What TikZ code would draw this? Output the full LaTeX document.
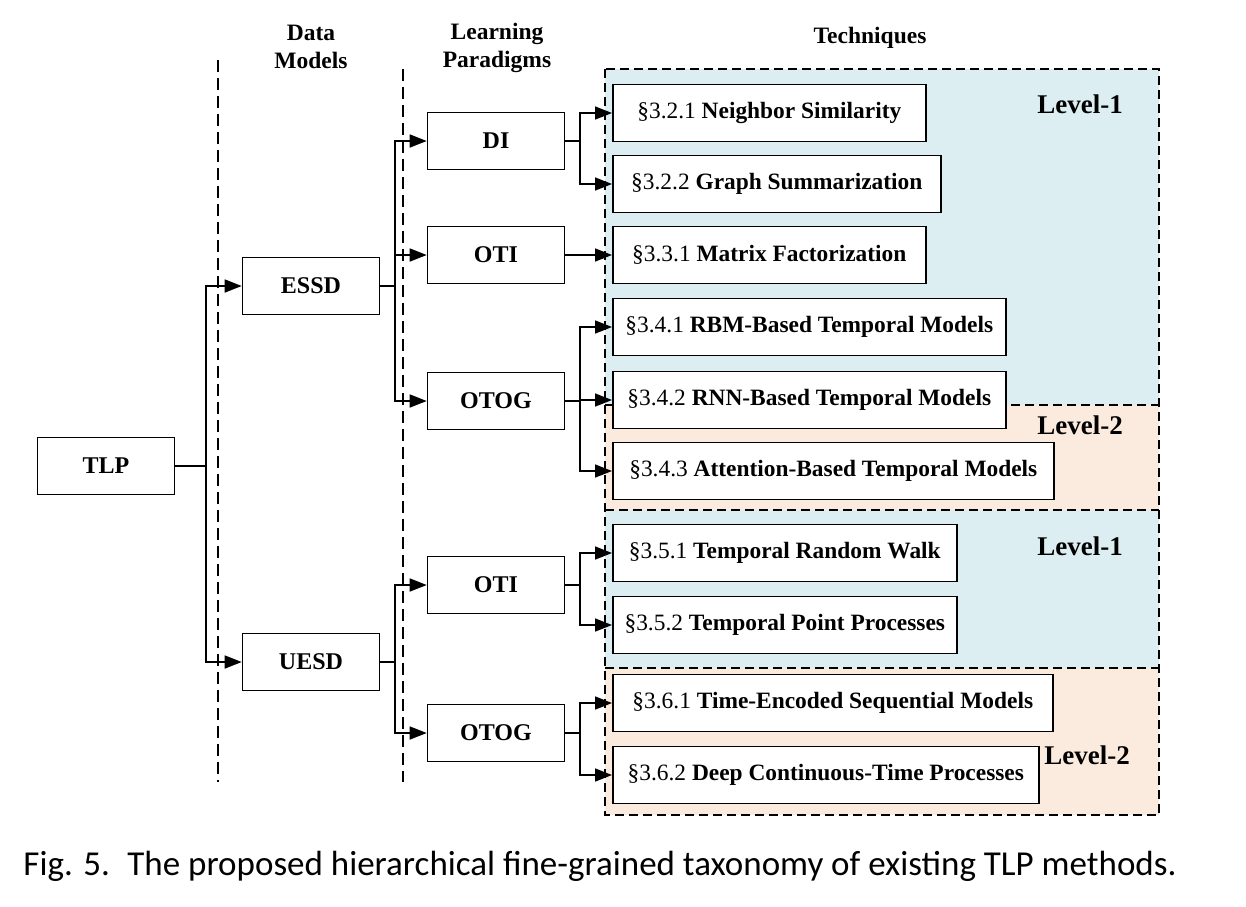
\documentclass[tikz,border=0pt]{standalone}
\usepackage{fontspec}
\setmainfont{Liberation Serif}
\newfontfamily\capfont{Carlito}
\usetikzlibrary{arrows.meta,calc}
\definecolor{lvlblue}{RGB}{221,238,243}
\definecolor{lvlbeige}{RGB}{250,235,222}
\tikzset{box/.style={draw, line width=1.6pt, fill=white, minimum width=137pt, minimum height=57pt, font=\fontsize{24}{28}\selectfont\bfseries}}
\tikzset{tech/.style={draw, line width=1.6pt, fill=white, anchor=west, minimum width=#1, minimum height=57pt, font=\fontsize{23.4}{27}\selectfont\bfseries}}
\tikzset{edge/.style={line width=1.6pt}}
\tikzset{arr/.style={edge, -{Triangle[length=17pt,width=13pt]}}}
\tikzset{sep/.style={line width=1.3pt, dash pattern=on 12pt off 6pt}}
\tikzset{lvlline/.style={line width=1.3pt, dash pattern=on 9pt off 5pt}}
\tikzset{lvl/.style={font=\fontsize{27}{31}\selectfont\bfseries}}
\tikzset{head/.style={align=center, font=\fontsize{23.5}{27.5}\selectfont\bfseries}}
\newcommand{\sect}[1]{{\mdseries\S#1}}

\begin{document}
\begin{tikzpicture}[x=1pt,y=-1pt]
\useasboundingbox (0,0) rectangle (1246,906);

% level regions behind the techniques
\fill[lvlblue] (605,69) rectangle (1159,405);
\fill[lvlbeige] (605,405) rectangle (1159,510);
\fill[lvlblue] (605,510) rectangle (1159,668);
\fill[lvlbeige] (605,668) rectangle (1159,815);
\draw[lvlline] (605,69) rectangle (1159,815);
\draw[lvlline] (605,405) -- (1159,405);
\draw[lvlline] (605,510) -- (1159,510);
\draw[lvlline] (605,668) -- (1159,668);

\node (l1a) at (1080,104)[lvl]{Level-1};
\node (l2a) at (1080,425)[lvl]{Level-2};
\node (l1b) at (1080,546)[lvl]{Level-1};
\node (l2b) at (1087,755)[lvl]{Level-2};

% column separators and headings
\draw[sep] (218,60) -- (218,782);
\draw[sep] (403,69) -- (403,782);
\node (hdata) at (311,47)[head]{Data\\Models};
\node (hlearn) at (497,48)[head]{Learning\\Paradigms};
\node (htech) at (870,38)[head]{Techniques};

% tree nodes
\node (tlp) at (106,466)[box]{TLP};
\node (essd) at (311,286)[box]{ESSD};
\node (uesd) at (311,662)[box]{UESD};
\node (di) at (496,141)[box]{DI};
\node (oti) at (496,255)[box]{OTI};
\node (otog) at (496,401)[box]{OTOG};
\node (oti2) at (496,585)[box]{OTI};
\node (otog2) at (496,733)[box]{OTOG};

\node (t321) at (612,113)[tech=313pt]{\sect{3.2.1} Neighbor Similarity};
\node (t322) at (612,184)[tech=328pt]{\sect{3.2.2} Graph Summarization};
\node (t331) at (612,255)[tech=313pt]{\sect{3.3.1} Matrix Factorization};
\node (t341) at (612,327)[tech=393pt]{\sect{3.4.1} RBM-Based Temporal Models};
\node (t342) at (612,400)[tech=393pt]{\sect{3.4.2} RNN-Based Temporal Models};
\node (t343) at (612,471)[tech=441pt]{\sect{3.4.3} Attention-Based Temporal Models};
\node (t351) at (612,553)[tech=344pt]{\sect{3.5.1} Temporal Random Walk};
\node (t352) at (612,625)[tech=344pt]{\sect{3.5.2} Temporal Point Processes};
\node (t361) at (612,703)[tech=440pt]{\sect{3.6.1} Time-Encoded Sequential Models};
\node (t362) at (612,775)[tech=426pt]{\sect{3.6.2} Deep Continuous-Time Processes};

% junctions
\coordinate (j0) at (206,466);
\coordinate (j1) at (395,286);
\coordinate (j2) at (395,662);
\coordinate (j3) at (580,141);
\coordinate (j4) at (580,401);
\coordinate (j5) at (580,585);
\coordinate (j6) at (580,733);

\draw[edge] (tlp) -- (j0);
\draw[arr] (j0) |- (essd);
\draw[arr] (j0) |- (uesd);

\draw[edge] (essd) -- (j1);
\draw[arr] (j1) |- (di);
\draw[arr] (j1) |- (oti);
\draw[arr] (j1) |- (otog);

\draw[edge] (uesd) -- (j2);
\draw[arr] (j2) |- (oti2);
\draw[arr] (j2) |- (otog2);

\draw[edge] (di) -- (j3);
\draw[arr] (j3) |- (t321);
\draw[arr] (j3) |- (t322);
\draw[arr] (oti) -- (t331);
\draw[edge] (otog) -- (j4);
\draw[arr] (j4) |- (t341);
\draw[arr] (j4) |- (t342);
\draw[arr] (j4) |- (t343);
\draw[edge] (oti2) -- (j5);
\draw[arr] (j5) |- (t351);
\draw[arr] (j5) |- (t352);
\draw[edge] (otog2) -- (j6);
\draw[arr] (j6) |- (t361);
\draw[arr] (j6) |- (t362);

% caption
\node (cap) at (600,866)[font=\capfont\fontsize{35}{39}\selectfont]{Fig. 5.\enspace The proposed hierarchical fine-grained taxonomy of existing TLP methods.};
\end{tikzpicture}
\end{document}
